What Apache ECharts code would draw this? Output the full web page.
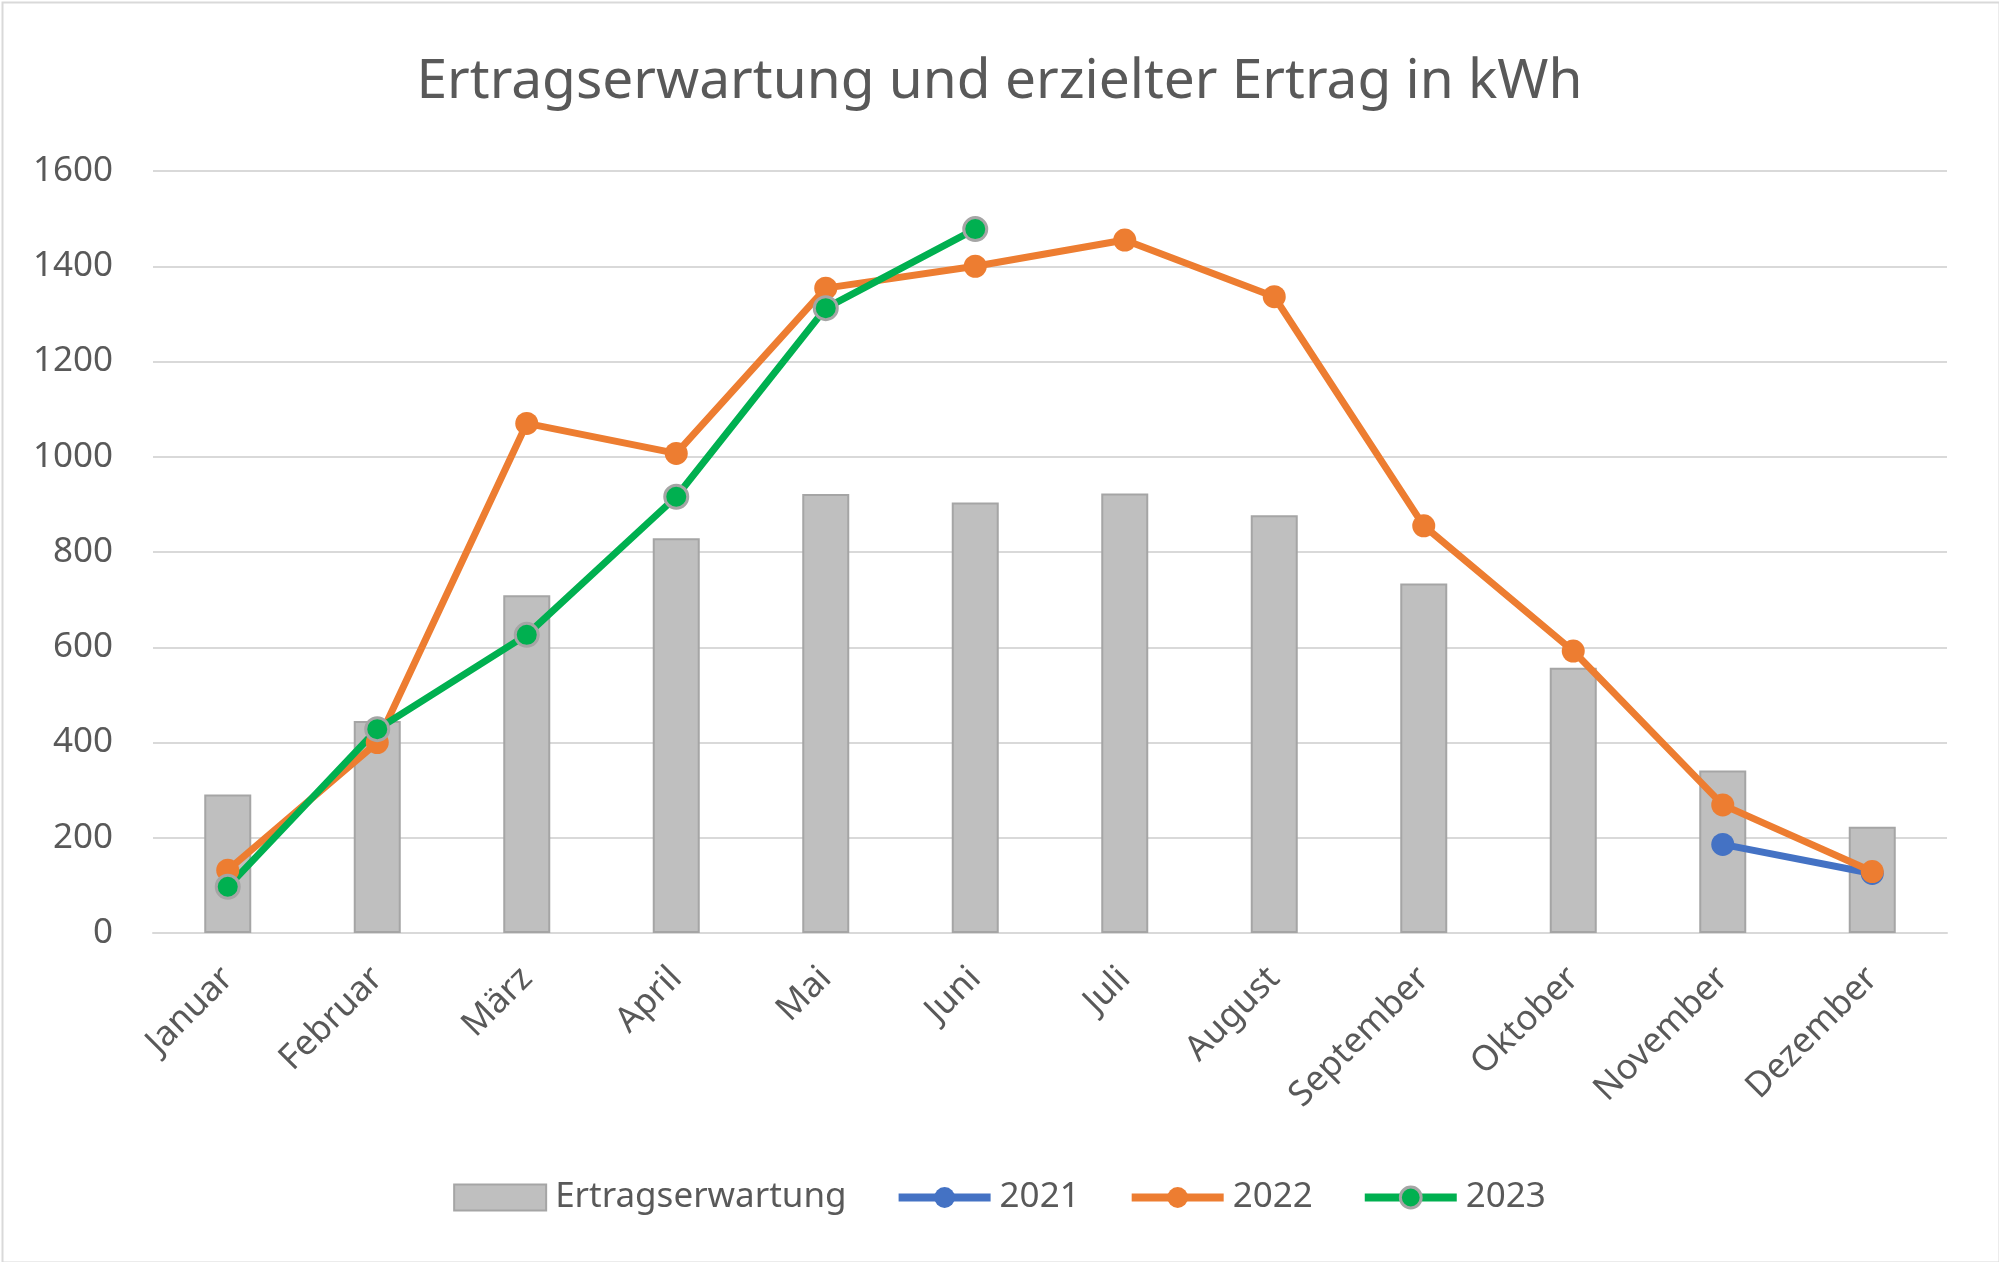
<!DOCTYPE html>
<html>
<head>
<meta charset="utf-8">
<script src="https://cdn.jsdelivr.net/npm/echarts@6/dist/echarts.min.js"></script>
<style>
html,body{margin:0;padding:0;background:#fff;}
#chart{width:1999px;height:1262px;}
</style>
</head>
<body>
<div id="chart"></div>
<script>
const categories = ['Januar','Februar','März','April','Mai','Juni','Juli','August','September','Oktober','November','Dezember'];
const ertragserwartung = [291, 445, 709, 829, 922, 904, 923, 877, 734, 557, 341, 223];
const y2021 = [null, null, null, null, null, null, null, null, null, null, 186, 125];
const y2022 = [132, 400, 1070, 1007, 1354, 1400, 1455, 1336, 855, 592, 269, 129];
const y2023 = [97, 428, 626, 916, 1312, 1478, null, null, null, null, null, null];
const yTicks = {min: 0, max: 1600, interval: 200};

const FONT = 'Noto Sans';
const TXT = '#595959';
const C2021 = '#4472c4', C2022 = '#ed7d31', C2023 = '#00b050';

const chart = echarts.init(document.getElementById('chart'));
function lineSeries(name, data, color, border) {
  return {
    name: name, type: 'line', data: data,
    symbol: 'circle', symbolSize: 23,
    lineStyle: {color: color, width: 7},
    itemStyle: {color: color, borderColor: border || color, borderWidth: border ? 3 : 0},
    z: 3
  };
}
function legendLine(name, color, border) {
  return {
    name: name,
    lineStyle: {color: color, width: 8},
    itemStyle: {color: color, borderColor: border || color, borderWidth: border ? 3 : 0}
  };
}
chart.setOption({
  animation: false,
  backgroundColor: '#fff',
  graphic: [{
    type: 'rect', left: 0, top: 0,
    shape: {x: 1, y: 1, width: 1997, height: 1260},
    style: {fill: 'none', stroke: '#d9d9d9', lineWidth: 2},
    silent: true
  }],
  title: {
    text: 'Ertragserwartung und erzielter Ertrag in kWh',
    left: 'center', top: 50,
    textStyle: {fontFamily: FONT, fontSize: 55, fontWeight: 'normal', color: TXT}
  },
  legend: {
    bottom: 42, left: 'center',
    itemWidth: 92, itemHeight: 26, itemGap: 48,
    textStyle: {fontFamily: FONT, fontSize: 35, color: TXT, padding: [0, 0, 0, 4]},
    data: [
      {name: 'Ertragserwartung', icon: 'rect', itemStyle: {color: '#bfbfbf', borderColor: '#a5a5a5', borderWidth: 2}},
      legendLine('2021', C2021), legendLine('2022', C2022), legendLine('2023', C2023, '#a5a5a5')
    ]
  },
  grid: {left: 153, right: 52, top: 171, bottom: 329},
  xAxis: {
    type: 'category', data: categories,
    axisLine: {lineStyle: {color: '#d9d9d9', width: 2}},
    axisTick: {show: false},
    axisLabel: {rotate: 45, margin: 40, fontFamily: FONT, fontSize: 35, color: TXT, interval: 0}
  },
  yAxis: {
    type: 'value', min: yTicks.min, max: yTicks.max, interval: yTicks.interval,
    axisLine: {show: false}, axisTick: {show: false},
    splitLine: {lineStyle: {color: '#d9d9d9', width: 2}},
    axisLabel: {margin: 40, fontFamily: FONT, fontSize: 35, color: TXT, formatter: function (v) { return String(v); }}
  },
  series: [
    {
      name: 'Ertragserwartung', type: 'bar', data: ertragserwartung, barWidth: 47,
      itemStyle: {color: '#bfbfbf', borderColor: '#a5a5a5', borderWidth: 2}, z: 2
    },
    lineSeries('2021', y2021, C2021),
    lineSeries('2022', y2022, C2022),
    lineSeries('2023', y2023, C2023, '#a5a5a5')
  ]
});
</script>
</body>
</html>
